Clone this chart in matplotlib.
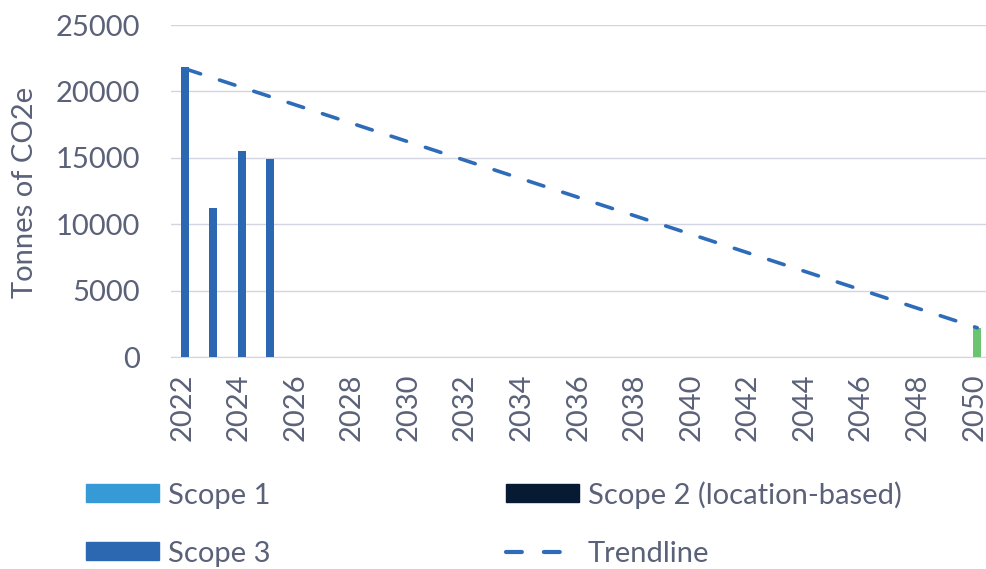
import matplotlib
matplotlib.use("Agg")
import matplotlib.pyplot as plt
import matplotlib.transforms as mtransforms
from matplotlib.patches import Patch
from matplotlib.lines import Line2D

years = list(range(2022, 2051))
scope1 = [0] * 29
scope2 = [0] * 29
scope3 = [21800, 11200, 15500, 14900] + [0] * 25
target = [0] * 28 + [2200]
trend_years = [2022, 2050]
trend_values = [21700, 2200]

text_col = "#5a6178"
grid_col = "#d3d6e2"
c_scope1 = "#359ad6"
c_scope2 = "#061a33"
c_scope3 = "#2c68b1"
c_target = "#6cc370"
c_trend = "#2e6bb8"

plt.rcParams["font.family"] = ["Lato", "DejaVu Sans"]

W, H = 986, 569
fig = plt.figure(figsize=(W / 100, H / 100), dpi=100)
ax = fig.add_axes([171 / W, (H - 357) / H, 815 / W, 332 / H])

x = list(range(len(years)))
bw = 0.28
ax.bar(x, scope1, width=bw, color=c_scope1, zorder=3)
ax.bar(x, scope2, width=bw, color=c_scope2, zorder=3)
ax.bar(x, scope3, width=bw, color=c_scope3, zorder=3)
ax.bar(x, target, width=bw, color=c_target, zorder=3)
tx = [years.index(y) for y in trend_years]
ax.plot(tx, trend_values, color=c_trend, lw=2.6, linestyle=(0, (4.5, 5.5)),
        dash_capstyle="round", zorder=4)

ax.set_xlim(-0.5, 28.31)
ax.set_ylim(0, 25000)
ax.set_yticks(range(0, 25001, 5000))
ax.set_xticks(x[::2])
ax.set_xticklabels([str(y) for y in years[::2]], rotation=90)
ax.grid(axis="y", color=grid_col, lw=1, zorder=0)
for s in ["top", "right", "left"]:
    ax.spines[s].set_visible(False)
ax.spines["bottom"].set_color(grid_col)
ax.tick_params(axis="both", length=0, labelsize=21, colors=text_col)
ax.tick_params(axis="y", pad=22)
ax.tick_params(axis="x", pad=12)

# labels sit a few pixels left of the bars in the original
shift = mtransforms.ScaledTranslation(-3 / 100, 0, fig.dpi_scale_trans)
for lab in ax.get_xticklabels():
    lab.set_transform(lab.get_transform() + shift)

fig.text(25 / W, 1 - 192 / H, "Tonnes of CO2e", rotation=90, ha="center",
         va="center", fontsize=21, color=text_col)

handles = [
    Patch(color=c_scope1, label="Scope 1"),
    Patch(color=c_scope3, label="Scope 3"),
    Patch(color=c_scope2, label="Scope 2 (location-based)"),
    Line2D([], [], color=c_trend, lw=3, linestyle=(0, (3.8, 5.3)),
           dash_capstyle="round", label="Trendline"),
]
leg = fig.legend(handles=handles, ncol=2, loc="upper left",
                 bbox_to_anchor=(86 / W, 1 - 481 / H), frameon=False,
                 borderpad=0, borderaxespad=0, fontsize=21, handlelength=2.5,
                 handleheight=0.58, handletextpad=0.3, columnspacing=8.1,
                 labelspacing=1.1)
for t in leg.get_texts():
    t.set_color(text_col)

fig.savefig("out.png", dpi=100)
